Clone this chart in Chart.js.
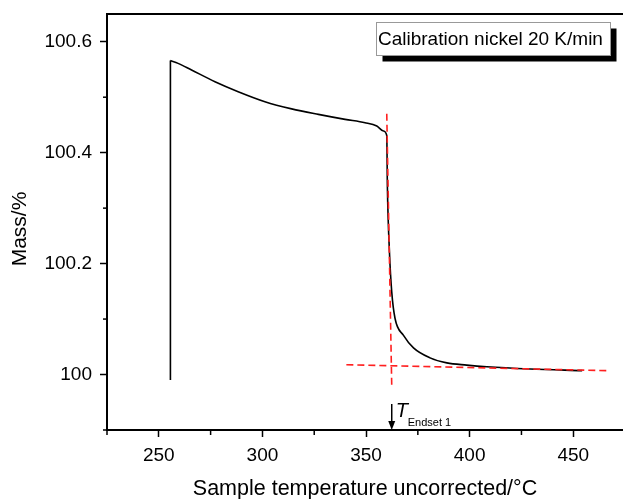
<!DOCTYPE html>
<html><head><meta charset="utf-8">
<script src="https://cdn.jsdelivr.net/npm/chart.js@4"></script>
<style>html,body{margin:0;padding:0;background:#fff}#wrap{width:623px;height:499px;position:relative}</style>
</head><body><div id="wrap"><canvas id="c"></canvas></div>
<script>
// ---- data ----
const massTemperature = [255.6, 255.6, 259.3, 265.8, 277.1, 288.3, 301.2, 314.1, 327.0, 339.9, 349.5, 355.2, 358.4, 360.0, 360.3, 361.3, 362.4, 364.0, 368.0, 372.9, 380.9, 389.0, 398.6, 408.3, 429.2, 454.3];
const massPercent     = [99.99, 100.566, 100.561, 100.549, 100.528, 100.510, 100.492, 100.479, 100.469, 100.460, 100.454, 100.448, 100.439, 100.431, 100.340, 100.221, 100.149, 100.101, 100.071, 100.048, 100.030, 100.021, 100.017, 100.014, 100.010, 100.007];
const steepTangentT    = [360.0, 362.4];
const steepTangentMass = [100.470, 99.980];
const baselineT    = [340.5, 466.3];
const baselineMass = [100.0177, 100.0070];
const xMajorTicks = [250, 300, 350, 400, 450];
const xMinorTicks = [225, 275, 325, 375, 425];
const yMajorTicks = [100, 100.2, 100.4, 100.6];
const yMinorTicks = [99.9, 100.1, 100.3, 100.5];
const endsetTemperature = 362.4;
const legendText = 'Calibration nickel 20 K/min';
const xTitle = 'Sample temperature uncorrected/°C';
const yTitle = 'Mass/%';

const FONT = '"Liberation Sans", Arial, Helvetica, sans-serif';
const pts = (xs, ys) => xs.map((v, i) => ({x: v, y: ys[i]}));
const massPts = pts(massTemperature, massPercent);

const decor = {
  id: 'decor',
  afterDraw(chart) {
    const {ctx, chartArea: a, scales: {x, y}} = chart;
    ctx.save();
    ctx.strokeStyle = '#000';
    ctx.fillStyle = '#000';
    ctx.lineWidth = 2;
    ctx.beginPath(); ctx.moveTo(a.left - 1, a.top); ctx.lineTo(a.right, a.top); ctx.stroke();
    ctx.lineWidth = 1.5;
    xMinorTicks.forEach(v => { const px = x.getPixelForValue(v); ctx.beginPath(); ctx.moveTo(px, a.bottom); ctx.lineTo(px, a.bottom + 5); ctx.stroke(); });
    yMinorTicks.forEach(v => { const py = y.getPixelForValue(v); ctx.beginPath(); ctx.moveTo(a.left, py); ctx.lineTo(a.left - 4, py); ctx.stroke(); });
    // y axis title
    ctx.save();
    ctx.translate(20.5, (a.top + a.bottom) / 2 + 7);
    ctx.rotate(-Math.PI / 2);
    ctx.font = '21px ' + FONT;
    ctx.textAlign = 'center'; ctx.textBaseline = 'middle';
    ctx.fillText(yTitle, 0, 0);
    ctx.restore();
    // arrow for T endset
    const ax = x.getPixelForValue(endsetTemperature);
    ctx.beginPath(); ctx.moveTo(ax, a.bottom - 26); ctx.lineTo(ax, a.bottom - 7); ctx.stroke();
    ctx.beginPath(); ctx.moveTo(ax - 3.5, a.bottom - 9); ctx.lineTo(ax + 3.5, a.bottom - 9); ctx.lineTo(ax, a.bottom); ctx.closePath(); ctx.fill();
    ctx.textAlign = 'left'; ctx.textBaseline = 'alphabetic';
    ctx.font = 'italic 20px ' + FONT;
    ctx.fillText('T', ax + 4, a.bottom - 13);
    ctx.font = '11px ' + FONT;
    ctx.fillText('Endset 1', ax + 16, a.bottom - 4);
    // legend box
    const bx = a.right - 247, by = a.top + 8, bw = 234, bh = 33;
    ctx.fillStyle = '#000';
    ctx.fillRect(bx + 6.5, by + 6.5, bw, bh);
    ctx.fillStyle = '#fff';
    ctx.fillRect(bx, by, bw, bh);
    ctx.strokeStyle = '#999'; ctx.lineWidth = 1;
    ctx.strokeRect(bx + 0.5, by + 0.5, bw, bh);
    ctx.fillStyle = '#000';
    ctx.font = '19px ' + FONT;
    ctx.textBaseline = 'middle';
    ctx.fillText(legendText, bx + 2, by + bh / 2 + 1);
    ctx.restore();
  }
};

new Chart(document.getElementById('c'), {
  type: 'line',
  data: {
    datasets: [
      { data: pts(steepTangentT, steepTangentMass), borderColor: '#ff2020', borderWidth: 1.6, borderDash: [7, 4], pointRadius: 0, tension: 0 },
      { data: pts(baselineT, baselineMass), borderColor: '#ff2020', borderWidth: 1.6, borderDash: [7, 4], pointRadius: 0, tension: 0 },
      { data: massPts.slice(0, 2), borderColor: '#000', borderWidth: 1.6, pointRadius: 0, tension: 0 },
      { data: massPts.slice(1), borderColor: '#000', borderWidth: 1.6, pointRadius: 0, cubicInterpolationMode: 'monotone' }
    ]
  },
  options: {
    responsive: true, maintainAspectRatio: false, animation: false, devicePixelRatio: 1,
    layout: { padding: { top: 14, right: 0, left: 0, bottom: 0 } },
    plugins: { legend: { display: false }, tooltip: { enabled: false } },
    scales: {
      x: {
        type: 'linear', min: 225, max: 474,
        afterBuildTicks: s => { s.ticks = xMajorTicks.map(v => ({value: v})); },
        afterFit: s => { s.height = 69; s.paddingLeft = 0; s.paddingRight = 0; },
        grid: { drawOnChartArea: false, drawTicks: true, tickLength: 7, tickColor: '#000', tickWidth: 1.5 },
        border: { display: true, color: '#000', width: 2 },
        ticks: { color: '#000', font: { family: FONT, size: 19 }, padding: 7, maxRotation: 0, callback: v => String(v) },
        title: { display: true, text: xTitle, color: '#000', font: { family: FONT, size: 21.5 }, padding: { top: 0, bottom: -3 } }
      },
      y: {
        type: 'linear', min: 99.9, max: 100.65,
        afterBuildTicks: s => { s.ticks = yMajorTicks.map(v => ({value: v})); },
        afterFit: s => { s.width = 107; s.paddingTop = 0; s.paddingBottom = 0; },
        grid: { drawOnChartArea: false, drawTicks: true, tickLength: 7, tickColor: '#000', tickWidth: 1.5 },
        border: { display: true, color: '#000', width: 2 },
        ticks: { color: '#000', font: { family: FONT, size: 19 }, padding: 8, callback: v => (Math.round(v * 10) / 10).toString() },
        title: { display: false }
      }
    }
  },
  plugins: [decor]
});
</script></body></html>
